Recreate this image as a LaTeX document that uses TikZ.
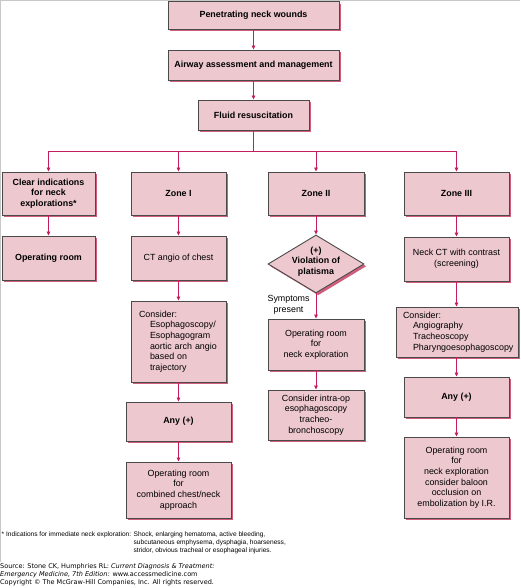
\documentclass[tikz,border=0pt]{standalone}
\usepackage{fontspec}
\setmainfont{Liberation Sans}
\newfontfamily\srcfont{DejaVu Sans}
\usetikzlibrary{shapes.geometric,shadows,arrows.meta}
\definecolor{boxfill}{HTML}{EDC9CF}
\definecolor{boxline}{HTML}{4A4A4A}
\definecolor{shcol}{HTML}{CF5E7C}
\definecolor{arrcol}{HTML}{C41E5E}
\definecolor{framecol}{HTML}{C8C8C8}
\tikzset{
  box/.style={draw=boxline, line width=0.9pt, fill=boxfill, rectangle, inner sep=0pt,
    align=center, font={\fontsize{8.9}{10.7}\selectfont},
    drop shadow={shadow xshift=2.3pt, shadow yshift=-2.3pt, fill=shcol, opacity=1}},
  bbox/.style={box, font={\fontsize{8.9}{10.7}\selectfont\bfseries}},
  lbox/.style={box, align=left},
  conn/.style={draw=arrcol, line width=0.8pt},
  arr/.style={conn, -{Triangle[length=4pt,width=3.6pt]}},
  lbl/.style={inner sep=0pt, align=center, font={\fontsize{8.9}{10.7}\selectfont}},
  note/.style={inner sep=0pt, anchor=base west, font={\fontsize{6.6}{8}\selectfont}},
  srcnote/.style={inner sep=0pt, anchor=base west, font={\srcfont\fontsize{6.5}{8.2}\selectfont}}
}
\begin{document}
\begin{tikzpicture}[x=1pt,y=-1pt]
\useasboundingbox (0,0) rectangle (520,588);
\draw[framecol, line width=1.3pt] (0.65,562) -- (0.65,0.65) -- (520,0.65);

\node[bbox, minimum width=171pt, minimum height=27.5pt] (n1) at (253.5,15.25) {Penetrating neck wounds};
\node[bbox, minimum width=171pt, minimum height=30pt] (n2) at (253.5,65) {Airway assessment and management};
\node[bbox, minimum width=111pt, minimum height=30pt] (n3) at (253.5,115) {Fluid resuscitation};

\node[bbox, minimum width=93pt, minimum height=43pt] (c1) at (48.5,193.5) {Clear indications\\for neck\\explorations*};
\node[bbox, minimum width=95pt, minimum height=43pt] (z1) at (178.5,193.5) {Zone I};
\node[bbox, minimum width=96pt, minimum height=43pt] (z2) at (316,193.5) {Zone II};
\node[bbox, minimum width=105pt, minimum height=43pt] (z3) at (456.5,193.5) {Zone III};

\node[bbox, minimum width=93pt, minimum height=44pt] (or1) at (48.5,258) {Operating room};

\node[box, minimum width=95pt, minimum height=44pt] (ct) at (178.5,258) {CT angio of chest};
\node[lbox, text width=79pt, inner xsep=8pt, minimum height=81pt] (cons1) at (178.5,341.5)
  {Consider:\\\hspace*{11pt}Esophagoscopy/\\\hspace*{11pt}Esophagogram\\\hspace*{11pt}aortic arch angio\\\hspace*{11pt}based on\\\hspace*{11pt}trajectory};
\node[bbox, minimum width=105pt, minimum height=39pt] (any1) at (178.5,421.5) {Any (+)};
\node[box, minimum width=105pt, minimum height=56pt] (orc) at (178.5,490) {Operating room\\for\\combined chest/neck\\approach};

\node[bbox, diamond, minimum width=96pt, minimum height=58pt] (dia) at (316,264)
  {\smash{\makebox[0pt]{\begin{tabular}{@{}c@{}}(+)\\Violation of\\platisma\end{tabular}}}};
\node[box, minimum width=96pt, minimum height=51pt] (orn) at (316,344.5) {Operating room\\for\\neck exploration};
\node[box, minimum width=96pt, minimum height=50pt] (intra) at (316,415) {Consider intra-op\\esophagoscopy\\tracheo-\\bronchoscopy};

\node[box, minimum width=105pt, minimum height=44pt] (nct) at (456.5,259) {Neck CT with contrast\\(screening)};
\node[lbox, text width=110pt, inner xsep=6pt, minimum height=50pt] (cons3) at (457,332)
  {\hspace*{1pt}Consider:\\\hspace*{11pt}Angiography\\\hspace*{11pt}Tracheoscopy\\\hspace*{11pt}\mbox{Pharyngoesophagoscopy}};
\node[bbox, minimum width=105pt, minimum height=40pt] (any3) at (456.5,397) {Any (+)};
\node[box, minimum width=105pt, minimum height=81pt] (or3) at (456.5,477.5) {Operating room\\for\\neck exploration\\consider baloon\\occlusion on\\embolization by I.R.};

% connectors
\draw[arr] (n1.south) -- (n2.north);
\draw[arr] (n2.south) -- (n3.north);
\coordinate (br) at (253.5,151);
\draw[conn] (n3.south) -- (br);
\draw[arr] (br) -| (c1.north);
\draw[arr] (br) -| (z1.north);
\draw[arr] (br) -| (z2.north);
\draw[arr] (br) -| (z3.north);
\draw[arr] (c1.south) -- (or1.north);
\draw[arr] (z1.south) -- (ct.north);
\draw[arr] (ct.south) -- (cons1.north);
\draw[arr] (cons1.south) -- (any1.north);
\draw[arr] (any1.south) -- (orc.north);
\draw[arr] (z2.south) -- (dia.north);
\draw[arr] (dia.south) -- node[lbl, left=6pt, yshift=1.5pt] {Symptoms\\present} (orn.north);
\draw[arr] (orn.south) -- (intra.north);
\draw[arr] (z3.south) -- (nct.north);
\draw[arr] (nct.south) -- (nct.south |- cons3.north);
\draw[arr] (any3.north |- cons3.south) -- (any3.north);
\draw[arr] (any3.south) -- (or3.north);

% notes
\node[note] (fn) at (1.5,536.7) {\begin{tabular}[t]{@{}l@{ }l@{}}* Indications for immediate neck exploration: & Shock, enlarging hematoma, active bleeding,\\ & subcutaneous emphysema, dysphagia, hoarseness,\\ & stridor, obvious tracheal or esophageal injuries.\end{tabular}};
\node[srcnote] (src) at (0,568.4) {\begin{tabular}[t]{@{}l@{}}Source: Stone CK, Humphries RL: \textit{Current Diagnosis \& Treatment:}\\\textit{Emergency Medicine, 7th Edition:} www.accessmedicine.com\\Copyright © The McGraw-Hill Companies, Inc. All rights reserved.\end{tabular}};
\end{tikzpicture}
\end{document}
